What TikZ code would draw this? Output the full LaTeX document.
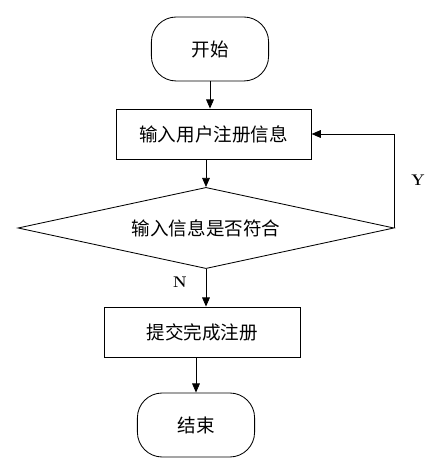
\documentclass[tikz,border=0pt]{standalone}
\usepackage{fontspec}
\newfontfamily\cjk{Noto Sans CJK SC}
\usetikzlibrary{shapes.geometric,arrows.meta}

\begin{document}
\begin{tikzpicture}[line width=.6pt,
  >={Triangle[length=6.5pt,width=5.5pt]},
  every node/.style={font=\cjk\fontsize{13.2}{15}\selectfont},
  terminal/.style={draw,rounded corners=.62cm,minimum width=2.93cm,minimum height=1.6cm},
  process/.style={draw,minimum width=4.88cm,minimum height=1.25cm},
  decision/.style={draw,diamond,aspect=4.64,inner sep=0pt,
    minimum width=9.4cm,minimum height=2.03cm},
  yn/.style={font=\rmfamily\bfseries\fontsize{11}{13}\selectfont}]
  \useasboundingbox (0,0) rectangle (11.125,11.725);
  \node[terminal] (start) at (5.25,10.5) {开始};
  \node[process] (input) at (5.34,8.375) {输入用户注册信息};
  \node[decision] (check) at (5.15,6.025) {输入信息是否符合};
  \node[process] (submit) at (5.06,3.425) {提交完成注册};
  \node[terminal] (stop) at (4.9,1.1) {结束};
  \node[yn] (ylab) at (10.45,7.225) {Y};
  \node[yn] (nlab) at (4.5,4.675) {N};
  \draw[->] (start.south) -- (start.south |- input.north);
  \draw[->] (check.north |- input.south) -- (check.north);
  \draw[->] (check.east) |- (input.east);
  \draw[->] (check.south) -- (check.south |- submit.north);
  \draw[->] (stop.north |- submit.south) -- (stop.north);
\end{tikzpicture}
\end{document}
